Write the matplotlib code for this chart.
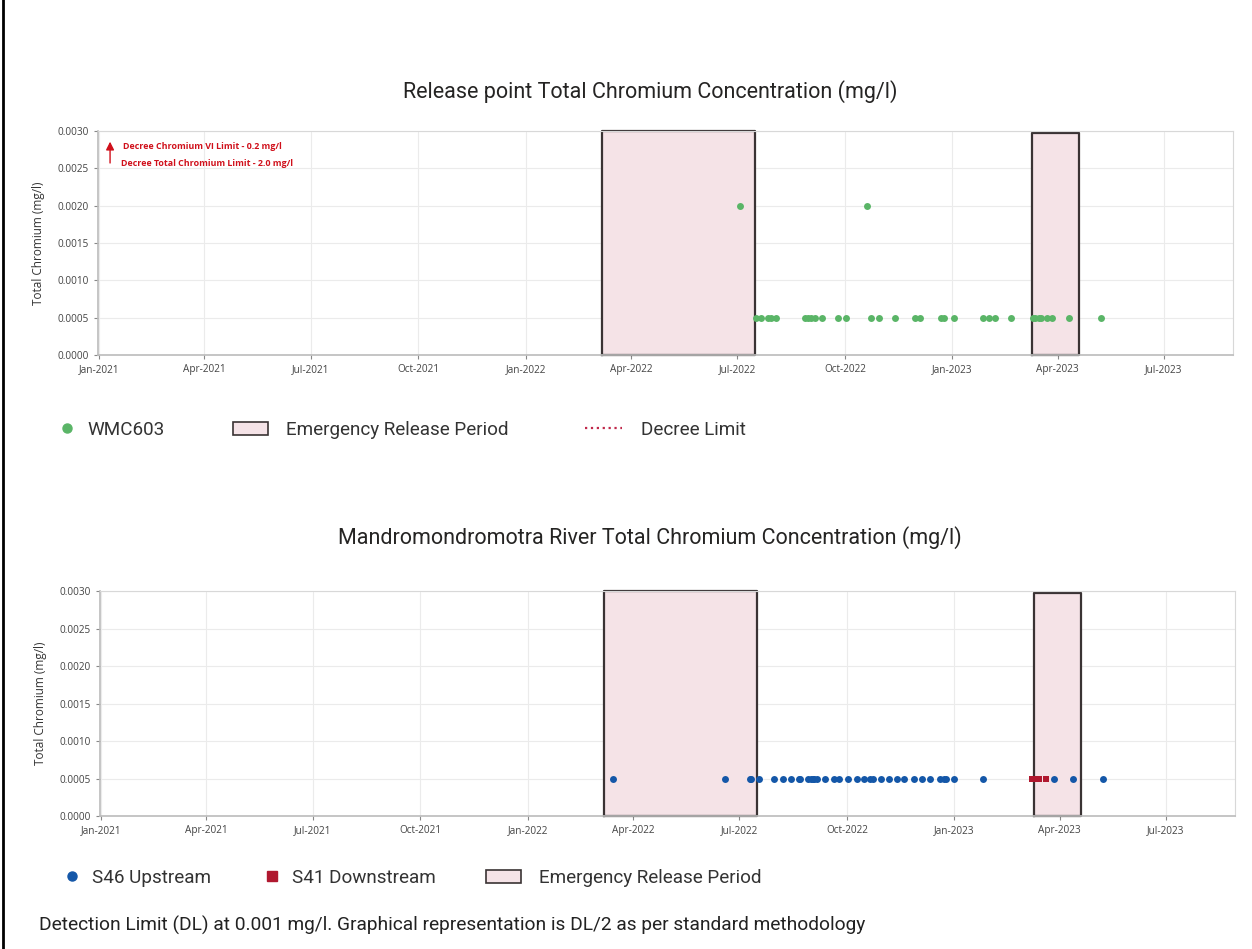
import matplotlib
matplotlib.use("Agg")
import matplotlib.pyplot as plt
import matplotlib.dates as mdates
from matplotlib.lines import Line2D
from matplotlib.patches import Patch
import pandas as pd

# WMC603 release point samples
wmc603_dates = [
    "2022-07-03", "2022-10-20",
    "2022-07-17", "2022-07-21", "2022-07-27", "2022-07-30", "2022-08-03",
    "2022-08-28", "2022-08-30", "2022-09-02", "2022-09-05", "2022-09-11",
    "2022-09-25", "2022-10-02", "2022-10-23", "2022-10-30", "2022-11-13",
    "2022-11-30", "2022-12-04", "2022-12-22", "2022-12-25", "2023-01-02",
    "2023-01-27", "2023-02-01", "2023-02-06", "2023-02-20", "2023-03-11",
    "2023-03-13", "2023-03-16", "2023-03-18", "2023-03-23", "2023-03-27",
    "2023-04-11", "2023-05-08",
]
wmc603_values = [0.002, 0.002] + [0.0005] * 32

# river samples
s46_dates = [
    "2022-03-15", "2022-06-19", "2022-07-10", "2022-07-11", "2022-07-18",
    "2022-07-31", "2022-08-07", "2022-08-14", "2022-08-21", "2022-08-22",
    "2022-08-29", "2022-08-31", "2022-09-02", "2022-09-03", "2022-09-05",
    "2022-09-12", "2022-09-20", "2022-09-24", "2022-10-02", "2022-10-10",
    "2022-10-16", "2022-10-21", "2022-10-23", "2022-10-30", "2022-11-06",
    "2022-11-13", "2022-11-19", "2022-11-27", "2022-12-04", "2022-12-11",
    "2022-12-20", "2022-12-23", "2022-12-25", "2023-01-01", "2023-01-25",
    "2023-03-27", "2023-04-12", "2023-05-08",
]
s46_values = [0.0005] * len(s46_dates)
s41_dates = ["2023-03-08", "2023-03-10", "2023-03-12", "2023-03-14", "2023-03-20"]
s41_values = [0.0005] * len(s41_dates)

release_periods = [("2022-03-07", "2022-07-16"), ("2023-03-10", "2023-04-19")]
decree_limits = [0.2, 2.0]

GREEN = "#5ab567"
BLUE = "#1457a8"
RED = "#b0182f"
PINK = "#f5e3e7"
EDGE = "#3a3334"
TXT = "#333333"
LIMIT_RED = "#d0101b"

fig = plt.figure(figsize=(12.52, 9.49), dpi=100)
fig.patch.set_facecolor("white")

ax1 = fig.add_axes([0.0783, 0.6259, 0.9065, 0.236])
ax2 = fig.add_axes([0.0799, 0.1401, 0.9065, 0.2371])


def style_axis(ax):
    ax.set_xlim(pd.Timestamp("2020-12-31"), pd.Timestamp("2023-08-29"))
    ax.set_ylim(0, 0.003)
    ax.set_yticks([0, 0.0005, 0.001, 0.0015, 0.002, 0.0025, 0.003])
    ax.yaxis.set_major_formatter(plt.FuncFormatter(lambda v, p: f"{v:.4f}"))
    ax.xaxis.set_major_locator(mdates.MonthLocator(bymonth=[1, 4, 7, 10]))
    ax.xaxis.set_major_formatter(mdates.DateFormatter("%b-%Y"))
    ax.grid(True, color="#ebebeb", linewidth=0.8)
    ax.set_axisbelow(True)
    for s in ["top", "right"]:
        ax.spines[s].set_color("#d8d8d8")
    for s in ["left", "bottom"]:
        ax.spines[s].set_color("#bbbbbb")
        ax.spines[s].set_linewidth(1.2)
    ax.tick_params(axis="both", labelsize=7.2, colors="#888888", labelcolor="#444444", length=3, width=0.8)
    for lab in ax.get_xticklabels() + ax.get_yticklabels():
        lab.set_family("Open Sans")
    ax.set_ylabel("Total Chromium (mg/l)", fontsize=8.5, color=TXT, family="Open Sans", labelpad=9)


def draw_periods(ax):
    for i, (a, b) in enumerate(release_periods):
        top = 0.003 if i == 0 else 0.00298
        a, b = pd.Timestamp(a), pd.Timestamp(b)
        ax.fill_between([a, b], 0, top, facecolor=PINK, edgecolor="none", zorder=1)
        ax.plot([a, a, b, b, a], [0, top, top, 0, 0], color=EDGE, linewidth=1.6, zorder=2, clip_on=False)


# top chart
style_axis(ax1)
draw_periods(ax1)
ax1.scatter(pd.to_datetime(wmc603_dates), wmc603_values, s=25, color=GREEN, zorder=3, linewidths=0)
for lim in decree_limits:
    ax1.axhline(lim, color="#c0284a", linestyle=":", linewidth=1.2)
ax1.annotate("", xy=(0.0106, 0.965), xytext=(0.0106, 0.845), xycoords="axes fraction",
             arrowprops=dict(arrowstyle="-|>", color=LIMIT_RED, lw=1.0, mutation_scale=12))
ax1.text(0.022, 0.933, "Decree Chromium VI Limit - 0.2 mg/l", transform=ax1.transAxes,
         fontsize=6.4, color=LIMIT_RED, fontweight="bold", family="Open Sans", va="center")
ax1.text(0.020, 0.857, "Decree Total Chromium Limit - 2.0 mg/l", transform=ax1.transAxes,
         fontsize=6.4, color=LIMIT_RED, fontweight="bold", family="Open Sans", va="center")

# bottom chart
style_axis(ax2)
draw_periods(ax2)
ax2.scatter(pd.to_datetime(s46_dates), s46_values, s=25, color=BLUE, zorder=3, linewidths=0)
ax2.scatter(pd.to_datetime(s41_dates), s41_values, s=15, color=RED, marker="s", zorder=4, linewidths=0)

# titles
fig.text(0.519, 0.904, "Release point Total Chromium Concentration (mg/l)", ha="center", va="center",
         fontsize=15.5, color="#252423", family="Roboto")
fig.text(0.519, 0.434, "Mandromondromotra River Total Chromium Concentration (mg/l)", ha="center",
         va="center", fontsize=15.5, color="#252423", family="Roboto")


# legends, one entry each so every item sits where the reference has it
def legend_item(handle, label, x_px, y_px, hlen, pad):
    fig.legend([handle], [label], loc="center left", bbox_to_anchor=(x_px / 1252, 1 - y_px / 949),
               frameon=False, prop={"family": "Roboto", "size": 13.6}, labelcolor=TXT,
               borderpad=0, borderaxespad=0, handlelength=hlen, handletextpad=pad)


dot = dict(linestyle="none", markersize=6.5)
legend_item(Line2D([], [], marker="o", color=GREEN, **dot), "WMC603", 61, 430, 0.6, 0.8)
legend_item(Patch(facecolor=PINK, edgecolor=EDGE, linewidth=1.2), "Emergency Release Period", 233, 430, 1.85, 0.95)
legend_item(Line2D([], [], color="#c0284a", linestyle=":", linewidth=1.6), "Decree Limit", 585, 430, 1.95, 1.0)

legend_item(Line2D([], [], marker="o", color=BLUE, **dot), "S46 Upstream", 66, 878, 0.6, 0.8)
legend_item(Line2D([], [], marker="s", color=RED, **dot), "S41 Downstream", 266, 878, 0.6, 0.8)
legend_item(Patch(facecolor=PINK, edgecolor=EDGE, linewidth=1.2), "Emergency Release Period", 486, 878, 1.85, 0.95)

fig.text(0.031, 1 - 925 / 949,
         "Detection Limit (DL) at 0.001 mg/l. Graphical representation is DL/2 as per standard methodology",
         ha="left", va="center", fontsize=13.8, color="#222222", family="Roboto")

# page border on the left
fig.add_artist(Line2D([0.002, 0.002], [0, 1], transform=fig.transFigure, color="black", linewidth=2))

fig.savefig("out.png", dpi=100)
